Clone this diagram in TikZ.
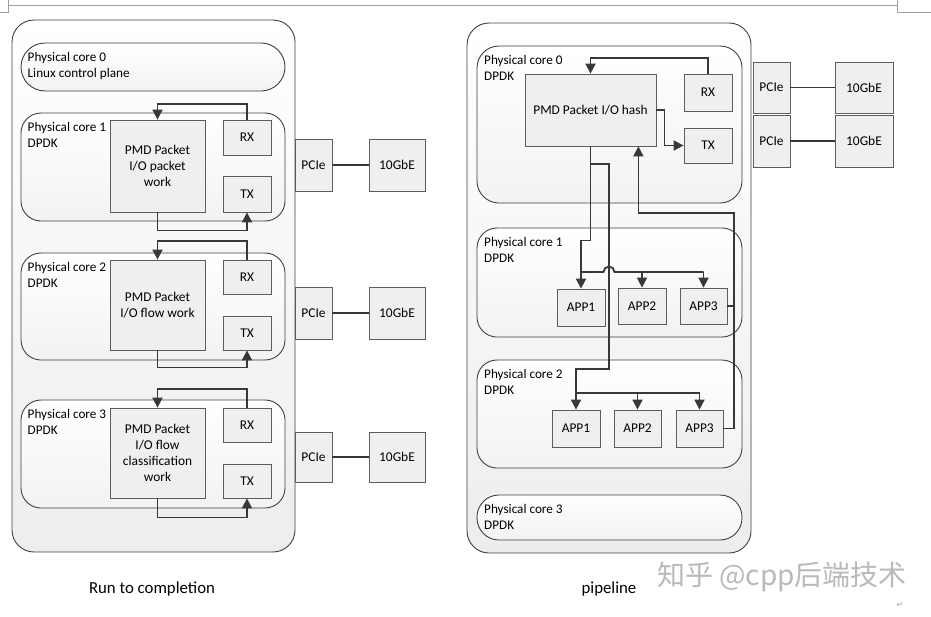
\documentclass[tikz,border=0pt]{standalone}
\usepackage{fontspec}
\setmainfont{Carlito}
\newfontfamily\cjkfont{Noto Sans CJK SC}
\newfontfamily\symfont{DejaVu Sans}
\usetikzlibrary{arrows.meta,shadows,calc}
\definecolor{edgec}{HTML}{404040}
\definecolor{wirec}{HTML}{383838}
\definecolor{boxfill}{HTML}{EFEFEF}
\tikzset{
  panel/.style={draw=edgec, line width=0.9pt, rounded corners=22pt, top color=white, bottom color=gray!14, inner sep=0pt},
  corebox/.style={draw=edgec, line width=0.9pt, rounded corners=20pt, top color=white, bottom color=gray!10, inner sep=0pt},
  unit/.style={draw=edgec!85, line width=0.8pt, fill=boxfill, inner sep=0pt, align=center,
    font=\fontsize{13.4}{16}\selectfont,
    drop shadow={shadow xshift=1.3pt, shadow yshift=-1.3pt, opacity=0.22, fill=black}},
  lbl/.style={inner sep=0pt, align=left, anchor=north west, font=\fontsize{13.2}{16}\selectfont},
  wire/.style={draw=wirec, line width=1.8pt},
  thinwire/.style={draw=wirec, line width=1.3pt},
  arr/.style={wire, -{Triangle[width=10pt,length=10pt]}},
  caption/.style={font=\fontsize{16.8}{20}\selectfont, anchor=base, inner sep=0pt},
  pagemark/.style={draw=gray!75, line width=0.6pt},
}
\begin{document}
\begin{tikzpicture}[x=1pt,y=-1pt]
\useasboundingbox (0,0) rectangle (931,616);
% page marks
\draw[pagemark] (8,5) -- (897,5);
\draw[pagemark] (0,12) -- (8,12) -- (8,0);
\draw[pagemark] (897,0) -- (897,12) -- (931,12);

% ===== Left: run to completion =====
\node[panel, minimum width=283pt, minimum height=532pt] (outerL) at (153.5,286) {};
\node[corebox, rounded corners=24pt, minimum width=264pt, minimum height=48pt] (c0L) at (153,67) {};
\node[corebox, minimum width=264pt, minimum height=108pt] (c1L) at (153,167) {};
\node[corebox, minimum width=264pt, minimum height=107pt] (c2L) at (153,306.5) {};
\node[corebox, minimum width=264pt, minimum height=108pt] (c3L) at (153,454) {};
\node[lbl] (c0Lt) at (27.5,52.5) {Physical core 0\\Linux control plane};
\node[lbl] (c1Lt) at (27.5,122.5) {Physical core 1\\DPDK};
\node[lbl] (c2Lt) at (27.5,262) {Physical core 2\\DPDK};
\node[lbl] (c3Lt) at (27.5,409) {Physical core 3\\DPDK};

\node[unit, minimum width=95pt, minimum height=92pt] (pmd1) at (157.5,166) {PMD Packet\\I/O packet\\work};
\node[unit, minimum width=48pt, minimum height=35pt] (rx1) at (247,137.5) {RX};
\node[unit, minimum width=48pt, minimum height=36pt] (tx1) at (247,194) {TX};
\node[unit, minimum width=37pt, minimum height=52pt] (pcie1) at (313.5,165) {PCIe};
\node[unit, minimum width=56pt, minimum height=52pt] (gbe1) at (397,165) {10GbE};

\node[unit, minimum width=95pt, minimum height=90pt] (pmd2) at (157.5,305) {PMD Packet\\I/O flow work};
\node[unit, minimum width=48pt, minimum height=34pt] (rx2) at (247,277) {RX};
\node[unit, minimum width=48pt, minimum height=34pt] (tx2) at (247,333) {TX};
\node[unit, minimum width=37pt, minimum height=52pt] (pcie2) at (313.5,313) {PCIe};
\node[unit, minimum width=56pt, minimum height=52pt] (gbe2) at (397,313) {10GbE};

\node[unit, minimum width=95pt, minimum height=90pt] (pmd3) at (157.5,453) {PMD Packet\\I/O flow\\classification\\work};
\node[unit, minimum width=48pt, minimum height=34pt] (rx3) at (247,425) {RX};
\node[unit, minimum width=48pt, minimum height=34pt] (tx3) at (247,481) {TX};
\node[unit, minimum width=37pt, minimum height=50pt] (pcie3) at (313.5,457) {PCIe};
\node[unit, minimum width=56pt, minimum height=50pt] (gbe3) at (397,457) {10GbE};

\draw[arr] (rx1.north) -- ++(0,-16) -| (pmd1.north);
\draw[arr] (pmd1.south) -- ++(0,18) -| (tx1.south);
\draw[arr] (rx2.north) -- ++(0,-19) -| (pmd2.north);
\draw[arr] (pmd2.south) -- ++(0,17) -| (tx2.south);
\draw[arr] (rx3.north) -- ++(0,-19) -| (pmd3.north);
\draw[arr] (pmd3.south) -- ++(0,19) -| (tx3.south);
\draw[thinwire] (pcie1.east) -- (gbe1.west);
\draw[thinwire] (pcie2.east) -- (gbe2.west);
\draw[thinwire] (pcie3.east) -- (gbe3.west);

\node[caption] (capL) at (152,593) {Run to completion};

% ===== Right: pipeline =====
\node[panel, minimum width=284pt, minimum height=530pt] (outerR) at (609,288) {};
\node[corebox, rounded corners=22pt, minimum width=265pt, minimum height=157pt] (c0R) at (609.5,124.5) {};
\node[corebox, minimum width=265pt, minimum height=109pt] (c1R) at (609.5,282.5) {};
\node[corebox, minimum width=265pt, minimum height=108pt] (c2R) at (609.5,414) {};
\node[corebox, rounded corners=22pt, minimum width=265pt, minimum height=45pt] (c3R) at (609.5,517.5) {};
\node[lbl] (c0Rt) at (484,55) {Physical core 0\\DPDK};
\node[lbl] (c1Rt) at (484,237.5) {Physical core 1\\DPDK};
\node[lbl] (c2Rt) at (484,369) {Physical core 2\\DPDK};
\node[lbl] (c3Rt) at (484,504.5) {Physical core 3\\DPDK};

\node[unit, minimum width=131pt, minimum height=72pt] (pmd0) at (590.5,110) {PMD Packet I/O hash};
\node[unit, minimum width=48pt, minimum height=37pt] (rx0) at (708,92.5) {RX};
\node[unit, minimum width=48pt, minimum height=35pt] (tx0) at (708,145.5) {TX};
\node[unit, minimum width=37pt, minimum height=51pt] (pcieA) at (771.5,87.5) {PCIe};
\node[unit, minimum width=37pt, minimum height=52pt] (pcieB) at (771.5,141) {PCIe};
\node[unit, minimum width=58pt, minimum height=51pt] (gbeA) at (864,87.5) {10GbE};
\node[unit, minimum width=58pt, minimum height=52pt] (gbeB) at (864,141) {10GbE};

\node[unit, minimum width=48pt, minimum height=37pt] (app1a) at (581,307.5) {APP1};
\node[unit, minimum width=48pt, minimum height=36pt] (app2a) at (642,306) {APP2};
\node[unit, minimum width=47pt, minimum height=36pt] (app3a) at (703.5,306) {APP3};
\node[unit, minimum width=48pt, minimum height=37pt] (app1b) at (576,428.5) {APP1};
\node[unit, minimum width=47pt, minimum height=37pt] (app2b) at (637.5,428.5) {APP2};
\node[unit, minimum width=47pt, minimum height=37pt] (app3b) at (699.5,428.5) {APP3};

\draw[thinwire] (pcieA.east) -- (gbeA.west);
\draw[thinwire] (pcieB.east) -- (gbeB.west);

\draw[arr] (rx0.north) -- ++(0,-16) -| (pmd0.north);
\draw[arr] (pmd0.east) -- ++(8,0) |- (tx0.west);

\coordinate (br) at (609,164);
\coordinate (bus1) at (0,272);
\coordinate (bus2) at (0,393);
\coordinate (ret) at (734,213);

\draw[arr] (pmd0.south) -- ++(0,94) -| (app1a.north);
\draw[arr] (pmd0.south |- br) -- (br) -- ++(0,205) -| (app1b.north);
\draw[wire] (app1a.north |- bus1) -- ($(br |- bus1)+(-5.5pt,0)$)
  arc[start angle=180, end angle=0, radius=5.5pt] -- (app3a.north |- bus1);
\draw[arr] (app2a.north |- bus1) -- (app2a.north);
\draw[arr] (app3a.north |- bus1) -- (app3a.north);
\draw[wire] (app1b.north |- bus2) -- (app3b.north |- bus2);
\draw[arr] (app2b.north |- bus2) -- (app2b.north);
\draw[arr] (app3b.north |- bus2) -- (app3b.north);
\draw[arr] (app3b.east) -| (ret) -| ([xshift=-18pt]pmd0.south east);
\draw[wire] (app3a.east) -- (app3a.east -| ret);

\node[caption] (capR) at (609,593) {pipeline};
\node[font=\cjkfont\fontsize{28}{30}\selectfont, text=gray!55, anchor=west, inner sep=0pt] (wm) at (657,577) {知乎 @cpp后端技术};
\node[font=\symfont\fontsize{8}{10}\selectfont, text=gray!70, inner sep=0pt] (retmark) at (900,605) {↵};
\end{tikzpicture}
\end{document}
